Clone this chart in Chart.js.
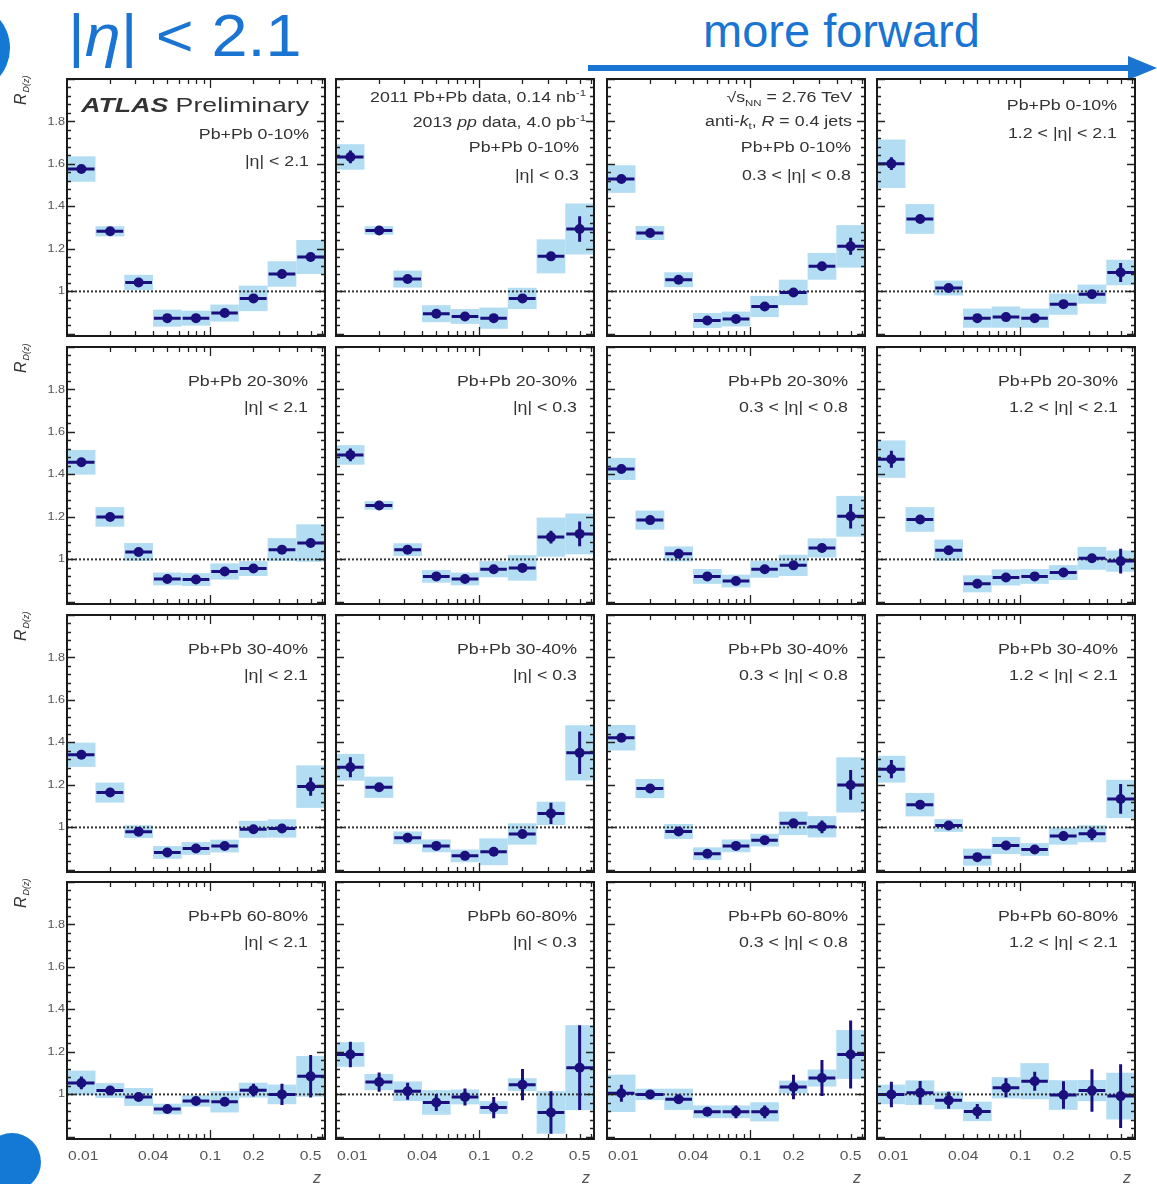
<!DOCTYPE html>
<html>
<head>
<meta charset="utf-8">
<script src="https://cdn.jsdelivr.net/npm/chart.js@4.4.0/dist/chart.umd.min.js"></script>
<style>
  body { margin: 0; background: #fff; }
  #page { position: relative; width: 1157px; height: 1184px; overflow: hidden; font-family: "Liberation Sans", Arial, sans-serif; }
  #page canvas { position: absolute; }
  .big { position: absolute; color: #1a74d2; white-space: nowrap; line-height: 1; }
  #etaTitle { left: 68px; top: 6px; font-size: 60px; transform: scaleX(1.08); transform-origin: left top; }
  #forward { left: 703px; top: 7px; font-size: 47px; }
</style>
</head>
<body>
<div id="page">
  <svg width="1157" height="1184" style="position:absolute;left:0;top:0">
    <circle cx="-35" cy="48" r="45" fill="#1479d4"/>
    <circle cx="12" cy="1162" r="29" fill="#1479d4"/>
    <line x1="588" y1="68" x2="1132" y2="68" stroke="#1a74d2" stroke-width="6"/>
    <polygon points="1128,56 1157,68 1128,80" fill="#1a74d2"/>
  </svg>
  <div class="big" id="etaTitle">|<i>η</i>| &lt; 2.1</div>
  <div class="big" id="forward">more forward</div>
</div>
<script>
// z binning (log-spaced, 5 bins per decade)
const zEdges = [0.01, 0.0158, 0.0251, 0.0398, 0.0631, 0.1, 0.158, 0.251, 0.398, 0.631];
const zCenters = [0.0126, 0.02, 0.0316, 0.0501, 0.0794, 0.126, 0.2, 0.316, 0.501];
const zTickLabels = [0.01, 0.04, 0.1, 0.2, 0.5];
const zMinorTicks = [0.02, 0.03, 0.04, 0.05, 0.06, 0.07, 0.08, 0.09, 0.2, 0.3, 0.4, 0.5, 0.6];
const yTickLabels = [1, 1.2, 1.4, 1.6, 1.8];

const centralityLabels = ["Pb+Pb 0-10%", "Pb+Pb 20-30%", "Pb+Pb 30-40%", "Pb+Pb 60-80%"];
const etaLabels = ["|η| < 2.1", "|η| < 0.3", "0.3 < |η| < 0.8", "1.2 < |η| < 2.1"];

// R_D(z) per centrality; rows are eta bins: <2.1, <0.3, 0.3-0.8, 1.2-2.1
const rd0010 = [
  [1.576, 1.283, 1.042, 0.874, 0.874, 0.898, 0.967, 1.082, 1.162],
  [1.633, 1.287, 1.058, 0.895, 0.882, 0.874, 0.967, 1.165, 1.294],
  [1.529, 1.275, 1.055, 0.863, 0.870, 0.929, 0.995, 1.118, 1.212],
  [1.601, 1.341, 1.016, 0.874, 0.879, 0.874, 0.940, 0.987, 1.089],
];
const syst0010 = [
  [0.06, 0.024, 0.036, 0.04, 0.035, 0.04, 0.06, 0.06, 0.08],
  [0.06, 0.02, 0.04, 0.04, 0.035, 0.05, 0.05, 0.08, 0.12],
  [0.065, 0.033, 0.035, 0.035, 0.035, 0.05, 0.06, 0.063, 0.1],
  [0.114, 0.07, 0.035, 0.045, 0.05, 0.045, 0.05, 0.045, 0.06],
];
const stat0010 = [
  [0.01, 0.008, 0.008, 0.008, 0.008, 0.01, 0.012, 0.015, 0.02],
  [0.03, 0.01, 0.01, 0.01, 0.01, 0.012, 0.015, 0.02, 0.06],
  [0.015, 0.01, 0.01, 0.008, 0.008, 0.01, 0.012, 0.015, 0.04],
  [0.03, 0.012, 0.01, 0.01, 0.01, 0.01, 0.012, 0.015, 0.045],
];

const rd2030 = [
  [1.457, 1.200, 1.035, 0.908, 0.905, 0.943, 0.957, 1.046, 1.077],
  [1.492, 1.254, 1.046, 0.920, 0.908, 0.954, 0.960, 1.105, 1.120],
  [1.426, 1.185, 1.026, 0.920, 0.898, 0.954, 0.972, 1.054, 1.203],
  [1.472, 1.188, 1.043, 0.885, 0.915, 0.920, 0.938, 1.005, 0.992],
];
const syst2030 = [
  [0.058, 0.046, 0.042, 0.03, 0.03, 0.038, 0.035, 0.054, 0.088],
  [0.046, 0.02, 0.03, 0.03, 0.03, 0.038, 0.06, 0.092, 0.096],
  [0.052, 0.045, 0.035, 0.035, 0.03, 0.04, 0.05, 0.045, 0.096],
  [0.088, 0.058, 0.05, 0.04, 0.038, 0.035, 0.035, 0.054, 0.05],
];
const stat2030 = [
  [0.012, 0.01, 0.008, 0.008, 0.008, 0.008, 0.01, 0.012, 0.02],
  [0.03, 0.01, 0.01, 0.008, 0.008, 0.01, 0.012, 0.03, 0.058],
  [0.02, 0.01, 0.01, 0.008, 0.008, 0.01, 0.01, 0.02, 0.058],
  [0.04, 0.01, 0.01, 0.008, 0.008, 0.008, 0.01, 0.02, 0.058],
];

const rd3040 = [
  [1.342, 1.164, 0.980, 0.882, 0.901, 0.912, 0.991, 0.995, 1.192],
  [1.283, 1.189, 0.951, 0.913, 0.866, 0.885, 0.969, 1.066, 1.351],
  [1.422, 1.183, 0.981, 0.876, 0.913, 0.940, 1.019, 1.003, 1.200],
  [1.274, 1.107, 1.009, 0.860, 0.915, 0.896, 0.959, 0.970, 1.134],
];
const syst3040 = [
  [0.057, 0.047, 0.03, 0.03, 0.03, 0.03, 0.04, 0.043, 0.1],
  [0.063, 0.05, 0.03, 0.03, 0.03, 0.063, 0.05, 0.055, 0.13],
  [0.06, 0.045, 0.035, 0.03, 0.03, 0.03, 0.055, 0.05, 0.13],
  [0.063, 0.055, 0.03, 0.04, 0.04, 0.03, 0.04, 0.04, 0.09],
];
const stat3040 = [
  [0.012, 0.01, 0.01, 0.008, 0.008, 0.01, 0.01, 0.012, 0.043],
  [0.047, 0.012, 0.01, 0.01, 0.01, 0.01, 0.02, 0.05, 0.1],
  [0.02, 0.01, 0.01, 0.008, 0.008, 0.01, 0.015, 0.03, 0.07],
  [0.043, 0.012, 0.01, 0.01, 0.01, 0.01, 0.02, 0.03, 0.07],
];

const rd6080 = [
  [1.054, 1.018, 0.988, 0.931, 0.969, 0.965, 1.020, 1.000, 1.085],
  [1.188, 1.058, 1.015, 0.962, 0.988, 0.938, 1.046, 0.915, 1.126],
  [1.005, 1.000, 0.977, 0.918, 0.918, 0.918, 1.035, 1.077, 1.188],
  [1.000, 1.008, 0.972, 0.920, 1.031, 1.062, 0.997, 1.018, 0.992],
];
const syst6080 = [
  [0.058, 0.035, 0.042, 0.025, 0.027, 0.05, 0.035, 0.046, 0.096],
  [0.058, 0.038, 0.046, 0.058, 0.035, 0.03, 0.03, 0.1, 0.2],
  [0.088, 0.027, 0.05, 0.03, 0.03, 0.045, 0.03, 0.04, 0.115],
  [0.046, 0.058, 0.042, 0.046, 0.05, 0.085, 0.07, 0.05, 0.11],
];
const stat6080 = [
  [0.03, 0.015, 0.02, 0.012, 0.015, 0.02, 0.03, 0.05, 0.1],
  [0.06, 0.045, 0.04, 0.04, 0.04, 0.05, 0.073, 0.1, 0.2],
  [0.04, 0.02, 0.02, 0.02, 0.03, 0.03, 0.058, 0.085, 0.16],
  [0.06, 0.055, 0.04, 0.035, 0.045, 0.045, 0.065, 0.1, 0.15],
];

const rdRows = [rd0010, rd2030, rd3040, rd6080];
const systRows = [syst0010, syst2030, syst3040, syst6080];
const statRows = [stat0010, stat2030, stat3040, stat6080];

const panelLeft = [67, 336, 607, 877];
const panelTop = [79, 347, 615, 882];
const panelW = 258;
const panelH = 257;

const markerColor = "#1a0f7d";
const systColor = "#b3ddf2";
const textColor = "#333";
const SX = 1.27; // text in this figure is set wide
const FONT = '"Liberation Sans", Arial, sans-serif';
const F = "14px " + FONT;
const FI = "italic 14px " + FONT;
const FS = "9px " + FONT;

// draw a list of [text, font, dy] runs, right-aligned at xRight
function drawRuns(ctx, runs, xRight, baseline, sx) {
  let w = 0;
  runs.forEach(r => { ctx.font = r[1]; w += ctx.measureText(r[0]).width; });
  ctx.save();
  ctx.translate(xRight, baseline);
  ctx.scale(sx, 1);
  ctx.textAlign = "left";
  ctx.textBaseline = "alphabetic";
  let x = -w;
  runs.forEach(r => {
    ctx.font = r[1];
    ctx.fillText(r[0], x, r[2] || 0);
    x += ctx.measureText(r[0]).width;
  });
  ctx.restore();
}

function panelTexts(row, col) {
  const cent = (row === 3 && col === 1) ? "PbPb 60-80%" : centralityLabels[row];
  if (row === 0 && col === 0) {
    return [
      { runs: [["ATLAS", "bold italic 21px " + FONT], [" Preliminary", "21px " + FONT]], b: 33, m: 16 },
      { runs: [[cent, F]], b: 60, m: 16 },
      { runs: [[etaLabels[col], F]], b: 87, m: 16 },
    ];
  }
  if (row === 0 && col === 1) {
    return [
      { runs: [["2011 Pb+Pb data, 0.14 nb", F], ["-1", FS, -6]], b: 23, m: 8 },
      { runs: [["2013 ", F], ["pp", FI], [" data, 4.0 pb", F], ["-1", FS, -6]], b: 48, m: 8 },
      { runs: [[cent, F]], b: 73, m: 15 },
      { runs: [[etaLabels[col], F]], b: 101, m: 15 },
    ];
  }
  if (row === 0 && col === 2) {
    return [
      { runs: [["√", F], ["s", F], ["NN", FS, 4], [" = 2.76 TeV", F]], b: 23, m: 13 },
      { runs: [["anti-", F], ["k", FI], ["t", FS, 3], [", ", F], ["R", FI], [" = 0.4 jets", F]], b: 47, m: 13 },
      { runs: [[cent, F]], b: 73, m: 14 },
      { runs: [[etaLabels[col], F]], b: 101, m: 14 },
    ];
  }
  if (row === 0) {
    return [
      { runs: [[cent, F]], b: 31, m: 18 },
      { runs: [[etaLabels[col], F]], b: 59, m: 18 },
    ];
  }
  return [
    { runs: [[cent, F]], b: 39, m: 17 },
    { runs: [[etaLabels[col], F]], b: 65, m: 17 },
  ];
}

const panelPlugin = {
  id: "panelDecor",
  beforeDatasetsDraw(chart) {
    const { ctx, chartArea: a, scales: { x, y } } = chart;
    const p = chart.options.plugins.panelDecor;
    ctx.save();
    ctx.beginPath();
    ctx.rect(a.left, a.top, a.right - a.left, a.bottom - a.top);
    ctx.clip();
    // systematic uncertainty boxes
    ctx.fillStyle = systColor;
    p.values.forEach((v, i) => {
      const x0 = x.getPixelForValue(zEdges[i]);
      const x1 = x.getPixelForValue(zEdges[i + 1]);
      const yt = y.getPixelForValue(v + p.syst[i]);
      const yb = y.getPixelForValue(v - p.syst[i]);
      ctx.fillRect(x0, yt, x1 - x0, yb - yt);
    });
    // reference line at unity
    ctx.strokeStyle = "#333";
    ctx.lineWidth = 2;
    ctx.setLineDash([2, 2]);
    const y1 = y.getPixelForValue(1);
    ctx.beginPath();
    ctx.moveTo(a.left, y1);
    ctx.lineTo(a.right, y1);
    ctx.stroke();
    ctx.setLineDash([]);
    // bin-width and statistical error bars
    ctx.strokeStyle = markerColor;
    ctx.lineWidth = 3;
    p.values.forEach((v, i) => {
      const x0 = x.getPixelForValue(zEdges[i]);
      const x1 = x.getPixelForValue(zEdges[i + 1]);
      const xc = x.getPixelForValue(zCenters[i]);
      const yc = y.getPixelForValue(v);
      ctx.beginPath();
      ctx.moveTo(x0 + 1, yc);
      ctx.lineTo(x1 - 1, yc);
      ctx.moveTo(xc, y.getPixelForValue(v + p.stat[i]));
      ctx.lineTo(xc, y.getPixelForValue(v - p.stat[i]));
      ctx.stroke();
    });
    ctx.restore();
  },
  afterDraw(chart) {
    const { ctx, chartArea: a, scales: { x, y } } = chart;
    const p = chart.options.plugins.panelDecor;
    ctx.save();
    // inward ticks on all four sides
    ctx.strokeStyle = "#222";
    ctx.lineWidth = 1.3;
    ctx.beginPath();
    for (let k = 0; k <= 30; k++) {
      const v = 0.8 + 0.04 * k;
      const major = k % 5 === 0;
      const len = major ? 8 : 4;
      const py = Math.round(y.getPixelForValue(v)) + 0.5;
      ctx.moveTo(a.left, py); ctx.lineTo(a.left + len, py);
      ctx.moveTo(a.right, py); ctx.lineTo(a.right - len, py);
    }
    zMinorTicks.concat([0.1]).forEach(z => {
      const len = z === 0.1 ? 9 : 5;
      const px = Math.round(x.getPixelForValue(z)) + 0.5;
      ctx.moveTo(px, a.bottom); ctx.lineTo(px, a.bottom - len);
      ctx.moveTo(px, a.top); ctx.lineTo(px, a.top + len);
    });
    ctx.stroke();
    // frame
    ctx.lineWidth = 2;
    ctx.strokeStyle = "#1a1a1a";
    ctx.strokeRect(a.left, a.top, a.right - a.left, a.bottom - a.top);

    // panel annotations
    ctx.fillStyle = textColor;
    panelTexts(p.row, p.col).forEach(t => drawRuns(ctx, t.runs, a.right - t.m, a.top + t.b, SX));

    // y tick labels and axis title on the first column
    if (p.col === 0) {
      ctx.fillStyle = "#555";
      ctx.font = "11px " + FONT;
      ctx.textBaseline = "middle";
      yTickLabels.forEach(v => {
        ctx.save();
        ctx.translate(a.left - 2, y.getPixelForValue(v));
        ctx.scale(1.15, 1);
        ctx.textAlign = "right";
        ctx.fillText(String(v), 0, 0);
        ctx.restore();
      });
      ctx.fillStyle = textColor;
      ctx.save();
      ctx.translate(a.left - 41, a.top + 26);
      ctx.rotate(-Math.PI / 2);
      ctx.textAlign = "left";
      ctx.textBaseline = "alphabetic";
      ctx.font = "italic 16px " + FONT;
      ctx.fillText("R", 0, 0);
      const rw = ctx.measureText("R").width;
      ctx.font = "italic 9px " + FONT;
      ctx.fillText("D(z)", rw + 1, 3);
      ctx.restore();
    }
    // z tick labels and axis title on the last row
    if (p.row === 3) {
      ctx.fillStyle = "#555";
      ctx.font = "13px " + FONT;
      ctx.textBaseline = "middle";
      zTickLabels.forEach(z => {
        const px = x.getPixelForValue(z);
        ctx.save();
        ctx.translate(z === 0.01 ? px + 1 : px, a.bottom + 17);
        ctx.scale(1.2, 1);
        ctx.textAlign = z === 0.01 ? "left" : "center";
        ctx.fillText(String(z), 0, 0);
        ctx.restore();
      });
      ctx.font = "italic 16px " + FONT;
      ctx.textAlign = "center";
      ctx.fillText("z", a.right - 8, a.bottom + 40);
    }
    ctx.restore();
  },
};

const page = document.getElementById("page");

for (let row = 0; row < 4; row++) {
  for (let col = 0; col < 4; col++) {
    const padL = col === 0 ? panelLeft[0] : 8;
    const padR = 8, padT = 8;
    const padB = row === 3 ? 50 : 8;
    const canvas = document.createElement("canvas");
    canvas.width = padL + panelW + padR;
    canvas.height = padT + panelH + padB;
    canvas.style.left = (panelLeft[col] - padL) + "px";
    canvas.style.top = (panelTop[row] - padT) + "px";
    page.appendChild(canvas);

    const values = rdRows[row][col];
    new Chart(canvas, {
      type: "scatter",
      data: {
        datasets: [{
          data: zCenters.map((z, i) => ({ x: z, y: values[i] })),
          pointRadius: 5,
          pointBackgroundColor: markerColor,
          pointBorderColor: markerColor,
          pointBorderWidth: 0,
          showLine: false,
        }],
      },
      options: {
        responsive: false,
        animation: false,
        events: [],
        layout: { padding: { left: padL, right: padR, top: padT, bottom: padB } },
        scales: {
          x: { type: "logarithmic", min: zEdges[0], max: zEdges[zEdges.length - 1], display: false },
          y: { type: "linear", min: 0.79, max: 2.0, display: false },
        },
        plugins: {
          legend: { display: false },
          tooltip: { enabled: false },
          panelDecor: {
            row, col, values,
            syst: systRows[row][col],
            stat: statRows[row][col],
          },
        },
      },
      plugins: [panelPlugin],
    });
  }
}
</script>
</body>
</html>
